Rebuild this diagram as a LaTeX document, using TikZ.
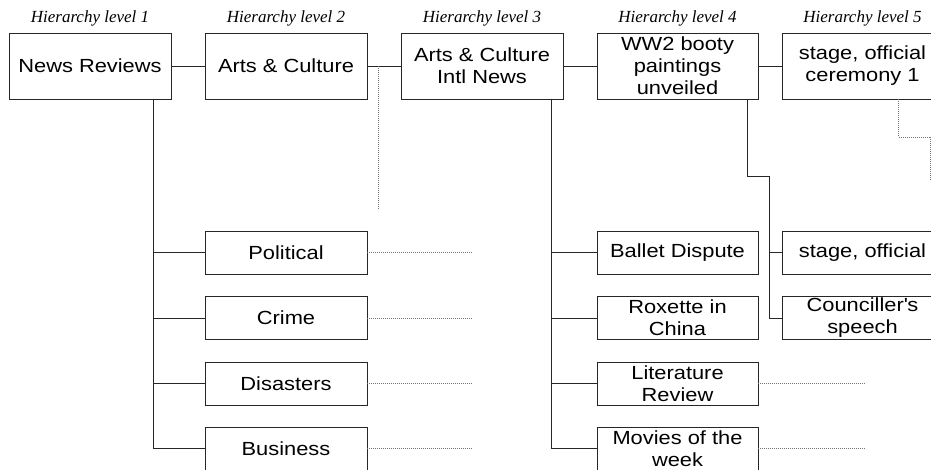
\documentclass[tikz,border=0pt]{standalone}
\usepackage{fontspec}
\setmainfont{Liberation Sans}[FakeStretch=1.15]
\newfontfamily\headfont{Liberation Serif}
\begin{document}
\begin{tikzpicture}[x=1pt,y=-1pt,
  box/.style={draw=black!85, line width=0.8pt, fill=white, inner sep=0pt,
    minimum width=162pt, align=center,
    font=\fontsize{19}{22}\selectfont},
  bigbox/.style={box, minimum height=66pt},
  smallbox/.style={box, minimum height=43pt},
  head/.style={font=\headfont\itshape\fontsize{17}{20}\selectfont, anchor=base},
  link/.style={draw=black!85, line width=0.8pt},
  trail/.style={draw=black!55, line width=0.7pt, dash pattern=on 1pt off 1pt}]
\useasboundingbox (0,0) rectangle (931,470);
\clip (0,0) rectangle (931,470);

% column headings
\node[head] (h1) at (90,23)    {Hierarchy level 1};
\node[head] (h2) at (286,23)   {Hierarchy level 2};
\node[head] (h3) at (482,23)   {Hierarchy level 3};
\node[head] (h4) at (677.5,23) {Hierarchy level 4};
\node[head] (h5) at (862.5,23) {Hierarchy level 5};

% main chain
\node[bigbox] (nr)  at (90,66)    {News Reviews};
\node[bigbox] (ac)  at (286,66)   {Arts \& Culture};
\node[bigbox] (ain) at (482,66)   {Arts \& Culture\\Intl News};
\node[bigbox, minimum width=161pt] (ww2) at (677.5,66) {WW2 booty\\paintings\\unveiled};
\node[bigbox, minimum width=161pt] (st1) at (862.5,66) {stage, official\\ceremony 1};

\draw[link] (nr) -- (ac);
\draw[link] (ac) -- (ain);
\draw[link] (ain) -- (ww2);
\draw[link] (ww2) -- (st1);

% level 2 children
\node[smallbox] (pol) at (286,252.5) {Political};
\node[smallbox] (cri) at (286,318)   {Crime};
\node[smallbox] (dis) at (286,383.5) {Disasters};
\node[smallbox] (bus) at (286,448.5) {Business};

\coordinate (nrd) at (153,99);
\draw[link] (nrd) |- (pol.west);
\draw[link] (nrd) |- (cri.west);
\draw[link] (nrd) |- (dis.west);
\draw[link] (nrd) |- (bus.west);

\foreach \n in {pol,cri,dis,bus}
  \draw[trail] (\n.east) -- ++(106,0);

% level 4 children
\node[smallbox, minimum width=161pt] (bal) at (677.5,252.5) {Ballet Dispute};
\node[smallbox, minimum width=161pt] (rox) at (677.5,318)   {Roxette in\\China};
\node[smallbox, minimum width=161pt] (lit) at (677.5,383.5) {Literature\\Review};
\node[smallbox, minimum width=161pt] (mov) at (677.5,448.5) {Movies of the\\week};

\coordinate (aind) at (551,99);
\draw[link] (aind) |- (bal.west);
\draw[link] (aind) |- (rox.west);
\draw[link] (aind) |- (lit.west);
\draw[link] (aind) |- (mov.west);

\draw[trail] (lit.east) -- ++(107,0);
\draw[trail] (mov.east) -- ++(107,0);

% level 5 children
\node[smallbox, minimum width=161pt] (st2) at (862.5,252.5) {stage, official};
\node[smallbox, minimum width=161pt] (cou) at (862.5,318)   {Counciller\textquotesingle s\\speech};

\coordinate (wwd) at (747,99);
\coordinate (wwk) at (769,176);
\draw[link] (wwd) |- (wwk) |- (cou.west);
\draw[link] (wwk) |- (st2.west);

% dotted continuations
\coordinate (acd) at (378,66);
\coordinate (acend) at (378,210);
\draw[trail] (acd) -- (acend);

\coordinate (std) at (898.5,99);
\coordinate (stk) at (930,137);
\coordinate (stend) at (930,180);
\draw[trail] (std) |- (stk) -- (stend);
\end{tikzpicture}
\end{document}
